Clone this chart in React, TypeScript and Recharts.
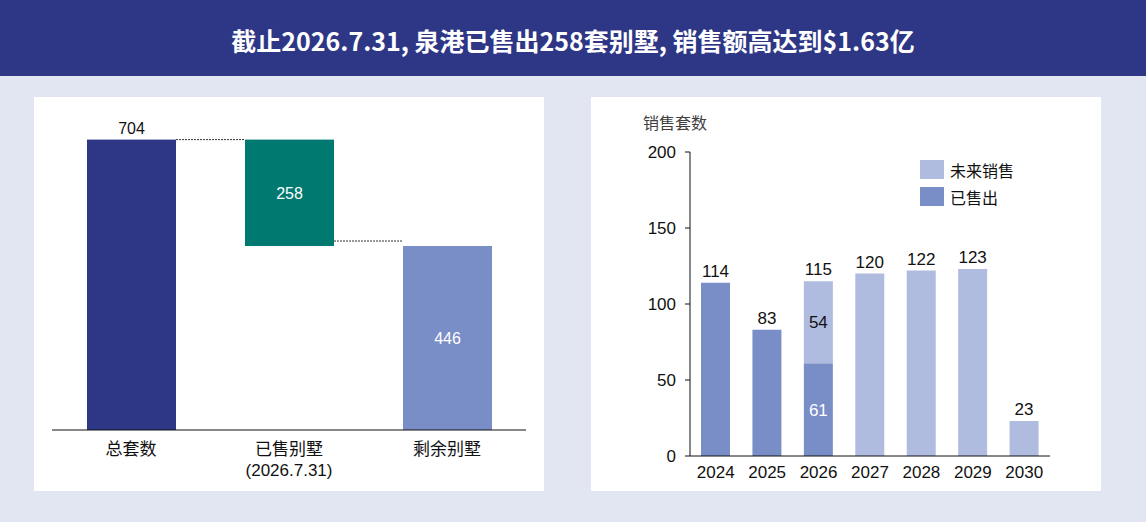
import { Bar, BarChart, Cell, LabelList, XAxis, YAxis } from "recharts";

const FONT = "'Liberation Sans', Arial, 'Noto Sans CJK SC', sans-serif";
const CJK = "'Noto Sans CJK SC', 'Liberation Sans', sans-serif";
const NAVY = "#2e3785";
const TEAL = "#007a70";
const SOLD = "#798dc7";
const FUTURE = "#afbbdf";

// waterfall (left)
const stepNames = ["总套数", "已售别墅\n(2026.7.31)", "剩余别墅"];
const stepBase = [0, 446, 0];
const stepValue = [704, 258, 446];
const stepColors = [NAVY, TEAL, SOLD];

// yearly sales (right)
const years = ["2024", "2025", "2026", "2027", "2028", "2029", "2030"];
const soldUnits = [114, 83, 61, 0, 0, 0, 0];
const futureUnits = [0, 0, 54, 120, 122, 123, 23];
const yTicks = [0, 50, 100, 150, 200];

const stepData = stepNames.map((name, i) => ({
  name,
  base: stepBase[i],
  value: stepValue[i],
}));

// labels ride on whichever segment is on top / split
const yearData = years.map((year, i) => {
  const sold = soldUnits[i];
  const future = futureUnits[i];
  const split = sold > 0 && future > 0;
  return {
    year,
    sold,
    future,
    soldTop: future === 0 ? sold + future : null,
    futureTop: future > 0 ? sold + future : null,
    soldInner: split ? sold : null,
    futureInner: split ? future : null,
  };
});

const LEFT_W = 510;
const LEFT_MARGIN = { top: 3, right: 18, bottom: 11, left: 18 };
const STEP_BAR = 89;
const stepBand = (LEFT_W - LEFT_MARGIN.left - LEFT_MARGIN.right) / stepNames.length;

function StepTick({ x, y, payload }: any) {
  const lines = String(payload.value).split("\n");
  return (
    <text x={x} y={y} textAnchor="middle" fill="#111" fontSize={17} fontFamily={CJK}>
      {lines.map((line, i) => (
        <tspan key={i} x={x} dy={i === 0 ? 17 : 21} fontFamily={i === 0 ? CJK : FONT}>
          {line}
        </tspan>
      ))}
    </text>
  );
}

// bar + dotted connector to the next step
function StepShape({ x, y, width, height, fill, index }: any) {
  const lineY = index === 0 ? y : y + height - 5;
  return (
    <g>
      <rect x={x} y={y} width={width} height={height} fill={fill} />
      {index < stepNames.length - 1 && (
        <line
          x1={x + width}
          x2={x + stepBand}
          y1={lineY}
          y2={lineY}
          stroke="#333"
          strokeWidth={1}
          strokeDasharray="2 1"
        />
      )}
    </g>
  );
}

function StepLabel({ x, y, width, height, index }: any) {
  const cx = x + width / 2;
  if (index === 0) {
    return (
      <text x={cx} y={y - 6} textAnchor="middle" fill="#111" fontSize={16} fontFamily={FONT}>
        {stepValue[index]}
      </text>
    );
  }
  return (
    <text x={cx} y={y + height / 2} dy={6} textAnchor="middle" fill="#fff" fontSize={16} fontFamily={FONT}>
      {stepValue[index]}
    </text>
  );
}

function TopLabel({ x, y, width, value }: any) {
  if (value === null || value === undefined) return null;
  return (
    <text x={x + width / 2} y={y - 6} textAnchor="middle" fill="#111" fontSize={17} fontFamily={FONT}>
      {value}
    </text>
  );
}

function innerLabel(color: string) {
  return ({ x, y, width, height, value }: any) => {
    if (value === null || value === undefined) return null;
    return (
      <text x={x + width / 2} y={y + height / 2} dy={6} textAnchor="middle" fill={color} fontSize={17} fontFamily={FONT}>
        {value}
      </text>
    );
  };
}

const panel: React.CSSProperties = {
  position: "absolute",
  top: 97,
  width: 510,
  height: 394,
  background: "#fff",
};

export default function App() {
  return (
    <div
      style={{
        position: "absolute",
        left: 0,
        top: 0,
        width: 1146,
        height: 522,
        background: "#e2e6f3",
        fontFamily: FONT,
        overflow: "hidden",
      }}
    >
      <div
        style={{
          height: 76,
          background: NAVY,
          color: "#fff",
          fontWeight: 700,
          fontSize: 25,
          lineHeight: "80px",
          textAlign: "center",
          fontFamily: CJK,
        }}
      >
        截止2026.7.31, 泉港已售出258套别墅, 销售额高达到$1.63亿
      </div>

      <div style={{ ...panel, left: 34 }}>
        <BarChart width={LEFT_W} height={394} data={stepData} margin={LEFT_MARGIN}>
          <XAxis
            dataKey="name"
            axisLine={{ stroke: "#111" }}
            tickLine={false}
            tick={<StepTick />}
            height={50}
            interval={0}
          />
          <YAxis hide domain={[0, 800]} />
          <Bar dataKey="base" stackId="w" fill="transparent" barSize={STEP_BAR} isAnimationActive={false} />
          <Bar dataKey="value" stackId="w" barSize={STEP_BAR} shape={<StepShape />} isAnimationActive={false}>
            {stepData.map((_, i) => (
              <Cell key={i} fill={stepColors[i]} />
            ))}
            <LabelList content={<StepLabel />} />
          </Bar>
        </BarChart>
      </div>

      <div style={{ ...panel, left: 591 }}>
        <div
          style={{
            position: "absolute",
            left: 52,
            top: 13,
            fontSize: 16,
            color: "#404040",
            fontFamily: CJK,
          }}
        >
          销售套数
        </div>
        <div style={{ position: "absolute", left: 329, top: 59, fontSize: 16, color: "#111" }}>
          {[
            { name: "未来销售", color: FUTURE },
            { name: "已售出", color: SOLD },
          ].map((item) => (
            <div key={item.name} style={{ display: "flex", alignItems: "center", height: 27 }}>
              <span style={{ width: 24, height: 19, background: item.color, marginRight: 6 }} />
              <span style={{ fontFamily: CJK }}>{item.name}</span>
            </div>
          ))}
        </div>
        <BarChart width={510} height={394} data={yearData} margin={{ top: 55, right: 51, bottom: 5, left: 0 }}>
          <XAxis
            dataKey="year"
            axisLine={{ stroke: "#111" }}
            tickLine={false}
            tickSize={0}
            tickMargin={10}
            height={30}
            tick={{ fill: "#111", fontSize: 17, fontFamily: FONT }}
            interval={0}
          />
          <YAxis
            domain={[0, 200]}
            ticks={yTicks}
            width={99}
            axisLine={{ stroke: "#111" }}
            tickLine={{ stroke: "#111" }}
            tickSize={5}
            tickMargin={9}
            tick={{ fill: "#111", fontSize: 17, fontFamily: FONT }}
          />
          <Bar dataKey="sold" stackId="s" fill={SOLD} barSize={29} isAnimationActive={false}>
            <LabelList dataKey="soldInner" content={innerLabel("#fff")} />
            <LabelList dataKey="soldTop" content={<TopLabel />} />
          </Bar>
          <Bar dataKey="future" stackId="s" fill={FUTURE} barSize={29} isAnimationActive={false}>
            <LabelList dataKey="futureInner" content={innerLabel("#111")} />
            <LabelList dataKey="futureTop" content={<TopLabel />} />
          </Bar>
        </BarChart>
      </div>
    </div>
  );
}
